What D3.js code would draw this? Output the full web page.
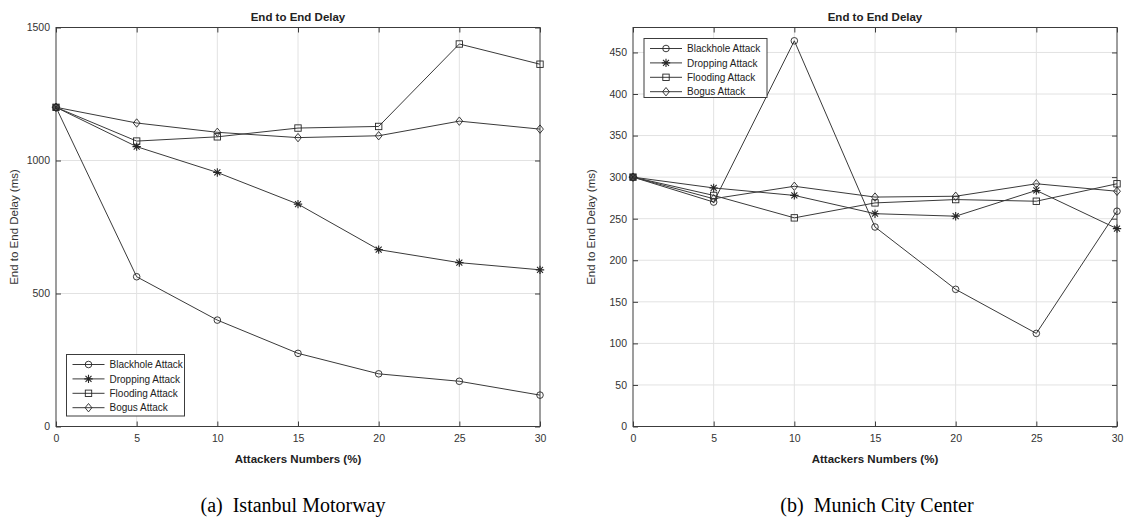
<!DOCTYPE html>
<html>
<head>
<meta charset="utf-8">
<script src="https://cdn.jsdelivr.net/npm/d3@7"></script>
<style>
  html, body { margin: 0; padding: 0; background: #ffffff; }
  svg { display: block; }
</style>
</head>
<body>
<svg id="chart" width="1126" height="523"></svg>
<script>
// ---------------- data ----------------
const attackers = [0, 5, 10, 15, 20, 25, 30];
const xTicks = [0, 5, 10, 15, 20, 25, 30];
const seriesNames = ["Blackhole Attack", "Dropping Attack", "Flooding Attack", "Bogus Attack"];
const markerTypes = ["circle", "asterisk", "square", "diamond"];

// (a) Istanbul Motorway
const blackholeIstanbul = [1200, 563, 400, 275, 198, 170, 118];
const droppingIstanbul  = [1200, 1052, 955, 836, 665, 616, 589];
const floodingIstanbul  = [1200, 1073, 1089, 1122, 1128, 1438, 1362];
const bogusIstanbul     = [1200, 1141, 1106, 1086, 1093, 1148, 1118];
const yTicksIstanbul = [0, 500, 1000, 1500];

// (b) Munich City Center
const blackholeMunich = [300, 270, 464, 240, 165, 112, 259];
const droppingMunich  = [300, 287, 278, 256, 253, 284, 238];
const floodingMunich  = [300, 278, 251, 269, 273, 271, 292];
const bogusMunich     = [300, 274, 289, 276, 277, 292, 283];
const yTicksMunich = [0, 50, 100, 150, 200, 250, 300, 350, 400, 450];

const chartTitle = "End to End Delay";
const xLabel = "Attackers Numbers (%)";
const yLabel = "End to End Delay (ms)";
const captions = ["(a)  Istanbul Motorway", "(b)  Munich City Center"];

// ---------------- drawing ----------------
const svg = d3.select("#chart");
const FONT = "'Liberation Sans', Arial, Helvetica, sans-serif";
const TEXT = "#333333";
const AXIS = "#3c3c3c";
const GRID = "#e2e2e2";
const LINE = "#3a3a3a";

function drawMarker(g, type, cx, cy) {
  const s = g.append("g").attr("transform", `translate(${cx},${cy})`)
    .attr("fill", "none").attr("stroke", "#262626").attr("stroke-width", 0.9);
  if (type === "circle") {
    s.append("circle").attr("r", 3.3);
  } else if (type === "square") {
    s.append("rect").attr("x", -3.2).attr("y", -3.2).attr("width", 6.4).attr("height", 6.4);
  } else if (type === "diamond") {
    s.append("path").attr("d", "M0,-4.2L3.4,0L0,4.2L-3.4,0Z");
  } else if (type === "asterisk") {
    const r = 4.2, d = 3.0;
    s.append("path").attr("stroke-width", 1.1)
      .attr("d", `M${-r},0L${r},0M0,${-r}L0,${r}M${-d},${-d}L${d},${d}M${-d},${d}L${d},${-d}`);
  }
}

function drawPanel(opts) {
  const { left, right, top, bottom, yMax, yTicks, series, legend, caption, captionX } = opts;
  const x = d3.scaleLinear().domain([0, 30]).range([left, right]);
  const y = d3.scaleLinear().domain([0, yMax]).range([bottom, top]);
  const g = svg.append("g");
  const fmt = d3.format("d");

  // grid
  const grid = g.append("g");
  grid.selectAll("line.vx").data(xTicks.slice(1, -1)).join("line")
    .attr("x1", d => x(d)).attr("x2", d => x(d)).attr("y1", top).attr("y2", bottom)
    .attr("stroke", GRID).attr("stroke-width", 1);
  grid.selectAll("line.hy").data(yTicks.filter(v => v > 0 && v < yMax)).join("line")
    .attr("x1", left).attr("x2", right).attr("y1", d => y(d)).attr("y2", d => y(d))
    .attr("stroke", GRID).attr("stroke-width", 1);

  // axes (ticks inward, on all four sides)
  const axB = g.append("g").attr("transform", `translate(0,${bottom})`)
    .call(d3.axisBottom(x).tickValues(xTicks).tickFormat(fmt).tickSizeInner(-5).tickSizeOuter(0).tickPadding(8));
  const axT = g.append("g").attr("transform", `translate(0,${top})`)
    .call(d3.axisTop(x).tickValues(xTicks).tickSizeInner(-5).tickSizeOuter(0).tickFormat(""));
  const axL = g.append("g").attr("transform", `translate(${left},0)`)
    .call(d3.axisLeft(y).tickValues(yTicks).tickFormat(fmt).tickSizeInner(-5).tickSizeOuter(0).tickPadding(6));
  const axR = g.append("g").attr("transform", `translate(${right},0)`)
    .call(d3.axisRight(y).tickValues(yTicks).tickSizeInner(-5).tickSizeOuter(0).tickFormat(""));
  [axB, axT, axL, axR].forEach(a => {
    a.select(".domain").remove();
    a.selectAll("line").attr("stroke", AXIS).attr("stroke-width", 1);
    a.selectAll("text").attr("font-family", FONT).attr("font-size", 10.5).attr("fill", TEXT);
  });
  // box
  g.append("rect").attr("x", left).attr("y", top).attr("width", right - left).attr("height", bottom - top)
    .attr("fill", "none").attr("stroke", AXIS).attr("stroke-width", 1);

  // series
  const lineGen = d3.line().x((d, i) => x(attackers[i])).y(d => y(d));
  series.forEach((vals, si) => {
    g.append("path").datum(vals).attr("d", lineGen)
      .attr("fill", "none").attr("stroke", LINE).attr("stroke-width", 1);
    vals.forEach((v, i) => drawMarker(g, markerTypes[si], x(attackers[i]), y(v)));
  });

  // title and labels
  const cx = (left + right) / 2;
  g.append("text").attr("x", cx).attr("y", 21).attr("text-anchor", "middle")
    .attr("font-family", FONT).attr("font-weight", "bold").attr("font-size", 11.5).attr("fill", "#222")
    .text(chartTitle);
  g.append("text").attr("x", cx).attr("y", 463).attr("text-anchor", "middle")
    .attr("font-family", FONT).attr("font-weight", "bold").attr("font-size", 11.5).attr("fill", "#222")
    .text(xLabel);
  g.append("text").attr("transform", `translate(${left - 38},${(top + bottom) / 2}) rotate(-90)`)
    .attr("text-anchor", "middle").attr("font-family", FONT).attr("font-size", 11.5).attr("fill", TEXT)
    .text(yLabel);

  // legend
  const lg = g.append("g");
  lg.append("rect").attr("x", legend.x).attr("y", legend.y).attr("width", legend.w).attr("height", legend.h)
    .attr("fill", "#ffffff").attr("stroke", "#3c3c3c").attr("stroke-width", 1);
  seriesNames.forEach((name, i) => {
    const ry = legend.y + 10 + i * 14.4;
    const lx0 = legend.x + 6, lx1 = legend.x + 38;
    lg.append("line").attr("x1", lx0).attr("x2", lx1).attr("y1", ry).attr("y2", ry)
      .attr("stroke", LINE).attr("stroke-width", 1);
    drawMarker(lg, markerTypes[i], (lx0 + lx1) / 2, ry);
    lg.append("text").attr("x", legend.x + 43).attr("y", ry + 3.6)
      .attr("font-family", FONT).attr("font-size", 10).attr("fill", "#222").text(name);
  });

  // caption
  svg.append("text").attr("x", captionX).attr("y", 512).attr("text-anchor", "middle")
    .attr("font-family", "'Liberation Serif', 'Times New Roman', serif").attr("font-size", 20)
    .attr("fill", "#000").attr("xml:space", "preserve").style("white-space", "pre")
    .text(caption);
}

drawPanel({
  left: 56, right: 540, top: 27.5, bottom: 426.5, yMax: 1500, yTicks: yTicksIstanbul,
  series: [blackholeIstanbul, droppingIstanbul, floodingIstanbul, bogusIstanbul],
  legend: { x: 66.5, y: 354.5, w: 118, h: 61.5 },
  caption: captions[0], captionX: 293
});
drawPanel({
  left: 633, right: 1117, top: 27.5, bottom: 426.5, yMax: 480, yTicks: yTicksMunich,
  series: [blackholeMunich, droppingMunich, floodingMunich, bogusMunich],
  legend: { x: 644, y: 38.5, w: 123, h: 59 },
  caption: captions[1], captionX: 877
});
</script>
</body>
</html>
